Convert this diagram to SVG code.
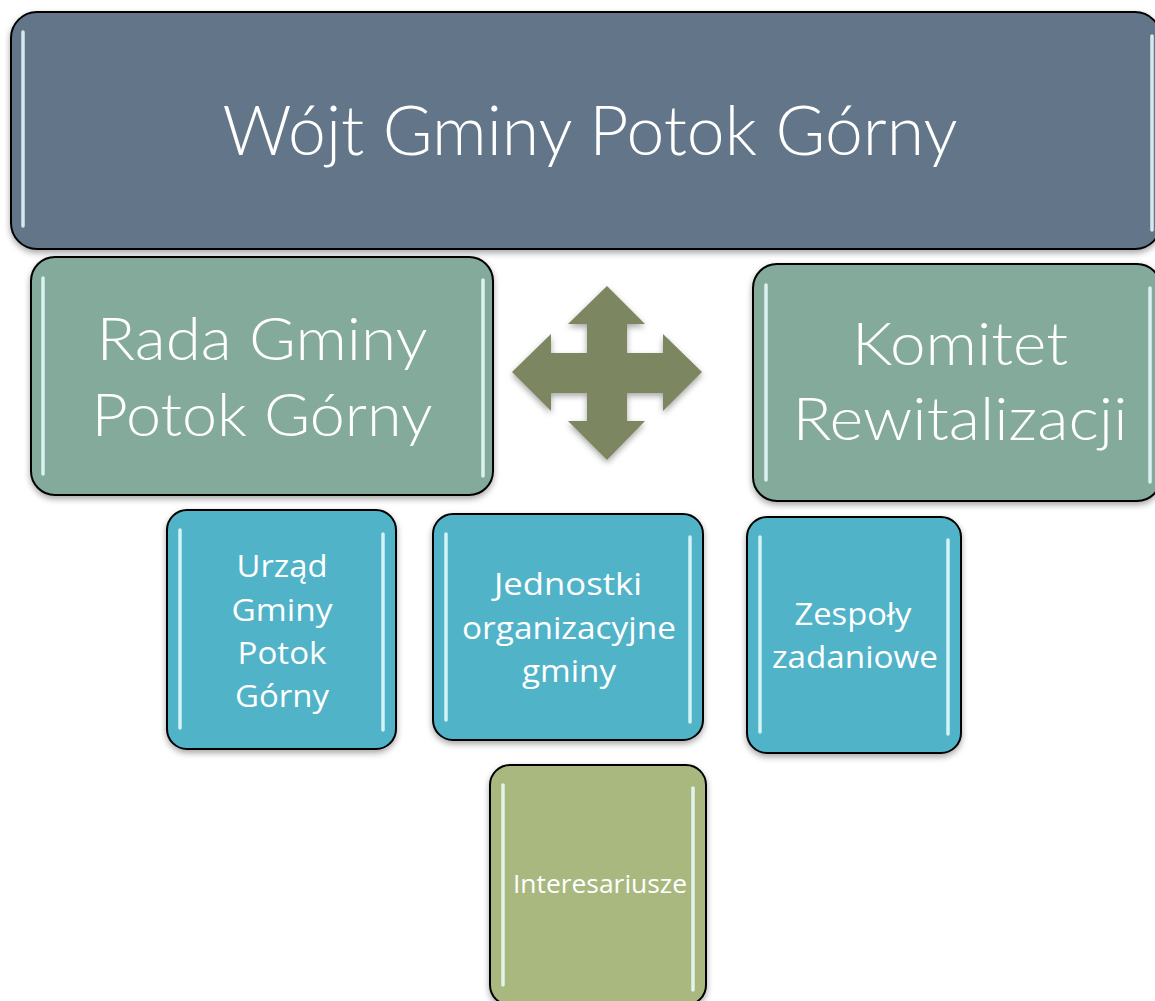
<svg xmlns="http://www.w3.org/2000/svg" width="1155" height="1001" viewBox="0 0 1155 1001">
<style>
.box{stroke:#000;stroke-width:2}
.hl{stroke:#eaffff;stroke-width:3.5;stroke-linecap:round;opacity:0.85;fill:none}
.big{font-family:Lato,"Open Sans","Liberation Sans",sans-serif;font-weight:300;fill:#fff;text-anchor:middle}
.sm{font-family:"Open Sans",Lato,"Liberation Sans",sans-serif;fill:#fff;text-anchor:middle}
</style>
<defs>
<filter id="sh" x="-10%" y="-10%" width="120%" height="130%">
<feDropShadow dx="0" dy="3" stdDeviation="3" flood-color="#000" flood-opacity="0.35"/>
</filter>
</defs>
<rect width="1155" height="1001" fill="#fff"/>
<g id="connectors">
<g id="arrow">
<path d="M607,286 L645,324 L627,324 L627,353 L663,353 L663,334 L702,372 L663,411 L663,393 L627,393 L627,421 L645,421 L607,460 L568,421 L587,421 L587,393 L551,393 L551,411 L512,372 L551,334 L551,353 L587,353 L587,324 L568,324 Z" fill="#7b8660" filter="url(#sh)"/>
</g>
</g>
<g id="wojt">
<rect class="box" x="11" y="12" width="1150" height="237" rx="26" fill="#647689" filter="url(#sh)"/>
<line class="hl" x1="23" y1="32" x2="23" y2="226" stroke="#dfeaf5"/>
<line class="hl" x1="1152" y1="36" x2="1152" y2="230" stroke="#dfeaf5"/>
<text class="big" x="590" y="155" font-size="68" textLength="735" lengthAdjust="spacingAndGlyphs">Wójt Gminy Potok Górny</text>
</g>
<g id="rada">
<rect class="box" x="31" y="257" width="462" height="238" rx="24" fill="#83aa9a" filter="url(#sh)"/>
<line class="hl" x1="43" y1="278" x2="43" y2="474"/>
<line class="hl" x1="483" y1="280" x2="483" y2="476"/>
<text class="big" x="262" y="360" font-size="60" textLength="331" lengthAdjust="spacingAndGlyphs">Rada Gminy</text>
<text class="big" x="262" y="436" font-size="60" textLength="341" lengthAdjust="spacingAndGlyphs">Potok Górny</text>
</g>
<g id="komitet">
<rect class="box" x="753" y="264" width="408" height="237" rx="24" fill="#83aa9a" filter="url(#sh)"/>
<line class="hl" x1="766" y1="285" x2="766" y2="480"/>
<line class="hl" x1="1150" y1="288" x2="1150" y2="482"/>
<text class="big" x="960" y="365" font-size="60" textLength="216" lengthAdjust="spacingAndGlyphs">Komitet</text>
<text class="big" x="960" y="440" font-size="60" textLength="335" lengthAdjust="spacingAndGlyphs">Rewitalizacji</text>
</g>
<g id="urzad">
<rect class="box" x="167" y="510" width="229" height="239" rx="20" fill="#51b3c8" filter="url(#sh)"/>
<line class="hl" x1="180" y1="530" x2="180" y2="728"/>
<line class="hl" x1="383" y1="534" x2="383" y2="730"/>
<text class="sm" x="282" y="577" font-size="31" textLength="91" lengthAdjust="spacingAndGlyphs">Urząd</text>
<text class="sm" x="282" y="621" font-size="31" textLength="101" lengthAdjust="spacingAndGlyphs">Gminy</text>
<text class="sm" x="282" y="664" font-size="31" textLength="89" lengthAdjust="spacingAndGlyphs">Potok</text>
<text class="sm" x="282" y="707" font-size="31" textLength="94" lengthAdjust="spacingAndGlyphs">Górny</text>
</g>
<g id="jednostki">
<rect class="box" x="433" y="514" width="270" height="226" rx="20" fill="#51b3c8" filter="url(#sh)"/>
<line class="hl" x1="446" y1="534" x2="446" y2="720"/>
<line class="hl" x1="690" y1="537" x2="690" y2="722"/>
<text class="sm" x="568" y="595" font-size="31" textLength="148" lengthAdjust="spacingAndGlyphs">Jednostki</text>
<text class="sm" x="569" y="639" font-size="31" textLength="214" lengthAdjust="spacingAndGlyphs">organizacyjne</text>
<text class="sm" x="569" y="682" font-size="31" textLength="94" lengthAdjust="spacingAndGlyphs">gminy</text>
</g>
<g id="zespoly">
<rect class="box" x="747" y="517" width="214" height="236" rx="20" fill="#51b3c8" filter="url(#sh)"/>
<line class="hl" x1="760" y1="537" x2="760" y2="732"/>
<line class="hl" x1="948" y1="540" x2="948" y2="734"/>
<text class="sm" x="853" y="625" font-size="31" textLength="117" lengthAdjust="spacingAndGlyphs">Zespoły</text>
<text class="sm" x="855" y="668" font-size="31" textLength="166" lengthAdjust="spacingAndGlyphs">zadaniowe</text>
</g>
<g id="interesariusze">
<rect class="box" x="490" y="765" width="216" height="240" rx="20" fill="#a9b87f" filter="url(#sh)"/>
<line class="hl" x1="503" y1="785" x2="503" y2="985" stroke="#f6ffe0"/>
<line class="hl" x1="693" y1="788" x2="693" y2="990" stroke="#f6ffe0"/>
<text class="sm" x="600" y="893" font-size="25" textLength="174" lengthAdjust="spacingAndGlyphs">Interesariusze</text>
</g>
</svg>
